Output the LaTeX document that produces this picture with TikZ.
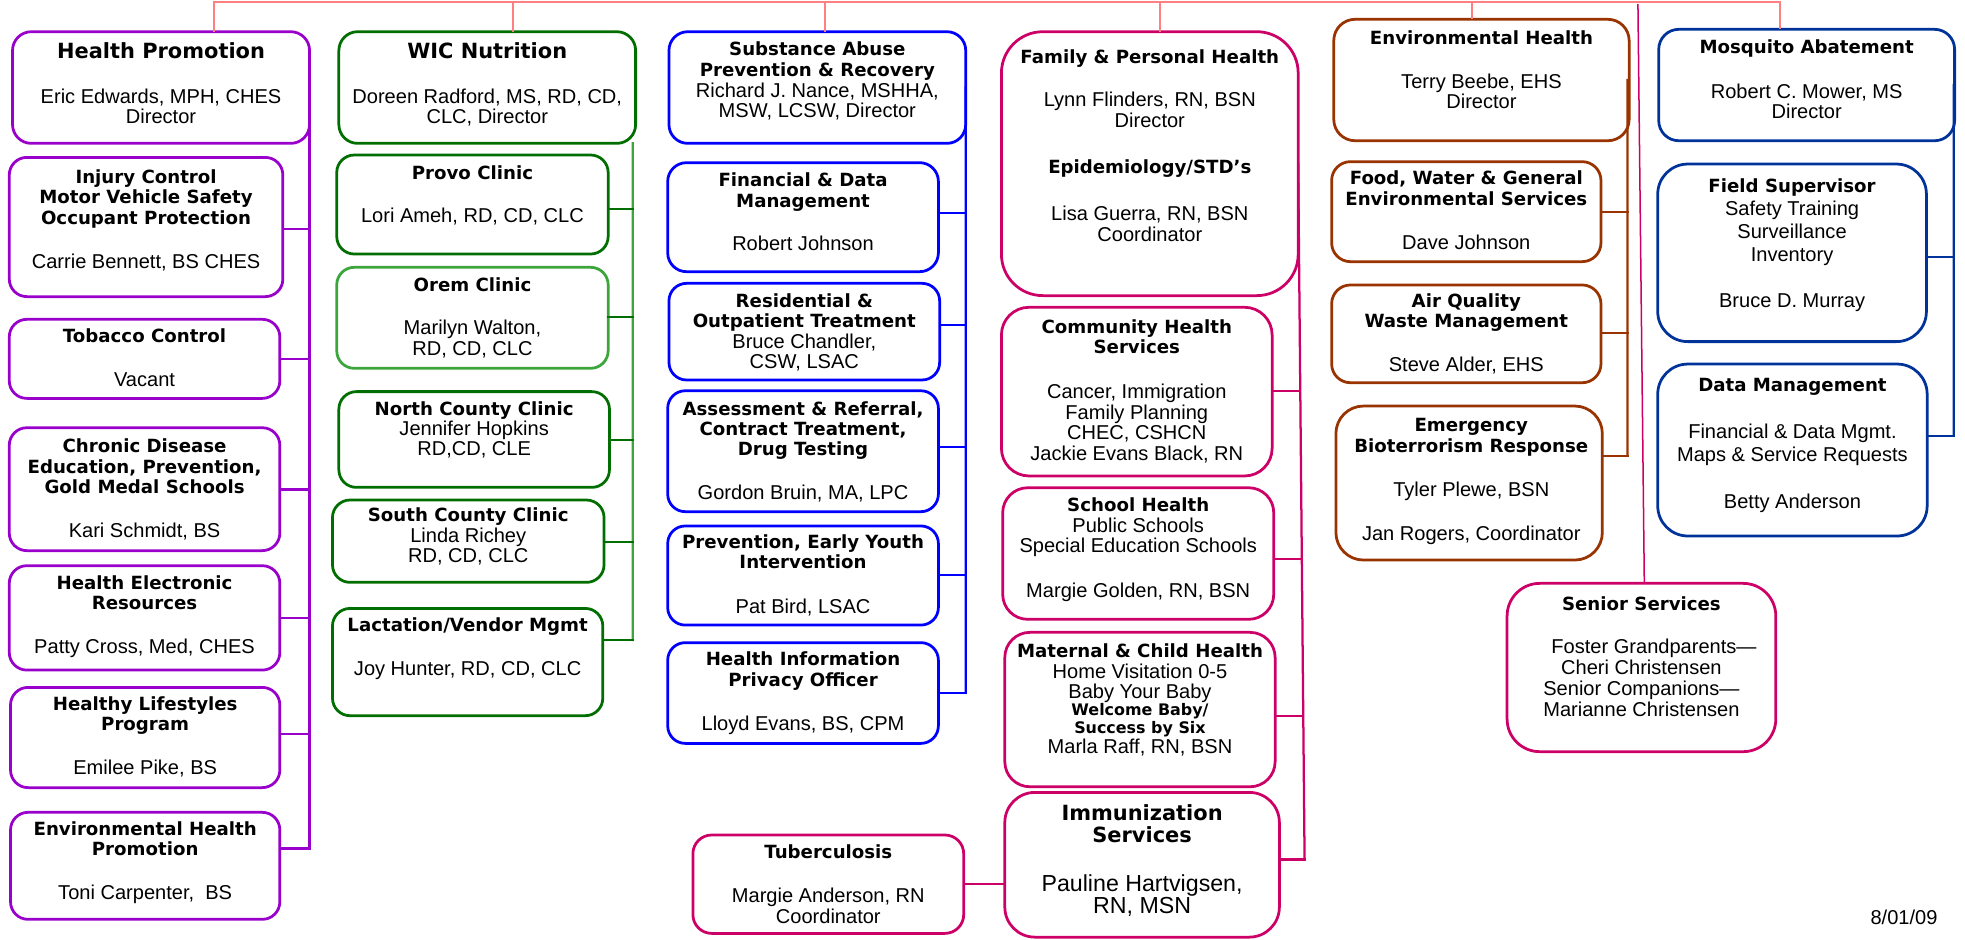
\documentclass[tikz,border=0pt]{standalone}
\usepackage{fontspec}
\setmainfont{Liberation Sans}
\newfontfamily\dejavu{DejaVu Sans}
\definecolor{purp}{RGB}{153,0,204}
\definecolor{dgreen}{RGB}{0,110,0}
\definecolor{lgreen}{RGB}{60,165,60}
\definecolor{bblue}{RGB}{0,0,255}
\definecolor{crim}{RGB}{204,0,102}
\definecolor{brn}{RGB}{153,51,0}
\definecolor{navyb}{RGB}{0,51,153}
\definecolor{salm}{RGB}{255,128,128}
\newcommand\setfs[2]{\fontsize{#1}{#2}\selectfont\lineskiplimit=-40pt\relax}
\newcommand\Hd[1]{{\dejavu\bfseries\fontsize{14.5}{16.3}\selectfont#1}}
\newcommand\Hdbig[1]{{\dejavu\bfseries\fontsize{16.7}{18}\selectfont#1}}
\newcommand\Hdsm[1]{{\dejavu\bfseries\fontsize{12.7}{14}\selectfont#1}}
\newcommand\Bign[1]{{\fontsize{18.5}{18}\selectfont#1}}
\newcommand\mkbox[7][]{\node[bx=#3,#1,minimum width={(#6-#4)*1pt},minimum height={(#7-#5)*1pt}] (#2) at ({(#4+#6)/2},{(#5+#7)/2}) {};}
\newcommand\mktext[5][]{\node[tx,#1] (#2) at (#3,{#4-13}) {\rule{0pt}{13pt}#5};}
\begin{document}
\begin{tikzpicture}[x=1pt,y=-1pt,
  bx/.style={draw=#1, line width=2.2pt, rounded corners=14pt, inner sep=0pt, outer sep=0pt},
  cn/.style={draw=#1, line width=1.8pt, line cap=rect},
  tx/.style={anchor=north, align=center, inner sep=0pt, outer sep=0pt, font=\setfs{16}{16.3}}]
\fill[white] (0,0) rectangle (1568,749.3);
\useasboundingbox (0,0) rectangle (1568,749.3);

% ---------- boxes ----------
\mkbox[rounded corners=15pt]{hp}{purp}{10}{25.3}{247}{114.4}
\mkbox{inj}{purp}{7.4}{125.6}{225.7}{236.7}
\mkbox{tob}{purp}{7.4}{254.8}{223.3}{317.9}
\mkbox{chr}{purp}{7.4}{341.3}{223.3}{439.4}
\mkbox{her}{purp}{7.4}{451.4}{223.3}{534.7}
\mkbox{hl}{purp}{8.4}{548.5}{223.3}{628.5}
\mkbox{ehp}{purp}{8.4}{648.2}{223.3}{733.6}

\mkbox[rounded corners=15pt]{wic}{dgreen}{270.4}{25.3}{507.2}{114.4}
\mkbox{provo}{dgreen}{268.7}{123.7}{485.3}{202.7}
\mkbox{orem}{lgreen}{268.7}{213.3}{485.3}{293.9}
\mkbox{north}{dgreen}{270.4}{312.5}{486.3}{388.9}
\mkbox{south}{dgreen}{265.3}{399}{482}{464.7}
\mkbox{lac}{dgreen}{265.3}{485.5}{481}{571.1}

\mkbox[rounded corners=15pt]{sub}{bblue}{533.8}{25.3}{770.6}{114.4}
\mkbox[rounded corners=15pt]{fin}{bblue}{532.8}{129.8}{748.8}{216.8}
\mkbox{res}{bblue}{533.8}{226.1}{749.8}{303.2}
\mkbox{ass}{bblue}{532.8}{311.8}{748.8}{408.3}
\mkbox{prev}{bblue}{532.8}{419.7}{748.8}{498.8}
\mkbox{hipo}{bblue}{532.8}{512.8}{748.8}{593.2}

\mkbox[rounded corners=33pt]{fam}{crim}{799.1}{25.3}{1035.9}{235.9}
\mkbox[rounded corners=22pt]{comm}{crim}{799.1}{245.2}{1015.1}{379.8}
\mkbox[rounded corners=20pt]{school}{crim}{800.1}{389.2}{1016.4}{494.2}
\mkbox[rounded corners=20pt]{mat}{crim}{801.8}{504.6}{1017.5}{627.8}
\mkbox[rounded corners=24pt]{imm}{crim}{801.8}{632.3}{1020.9}{747.8}
\mkbox[rounded corners=15pt]{tb}{crim}{552.9}{666.3}{769}{744.8}

\mkbox[rounded corners=17pt]{eh}{brn}{1064.3}{15.4}{1300}{112.3}
\mkbox[rounded corners=15pt]{food}{brn}{1062.6}{129}{1277.5}{208.8}
\mkbox[rounded corners=15pt]{air}{brn}{1062.6}{227.4}{1277.5}{305.4}
\mkbox[rounded corners=22pt]{emer}{brn}{1066}{324}{1278.6}{446.9}

\mkbox[rounded corners=16pt]{mos}{navyb}{1323.6}{23.4}{1559.7}{112.3}
\mkbox[rounded corners=24pt]{field}{navyb}{1322.8}{130.9}{1537.2}{272.6}
\mkbox[rounded corners=24pt]{data}{navyb}{1322.8}{290.5}{1537.8}{427.7}

\mkbox[rounded corners=26pt]{sen}{crim}{1202.6}{465.5}{1417}{599.8}

% ---------- texts ----------
\mktext{hp-t}{128.5}{46.5}{\Hdbig{Health Promotion}\\[19.7pt]Eric Edwards, MPH, CHES\\Director}
\mktext{inj-t}{116.55}{146.3}{\Hd{Injury Control}\\\Hd{Motor Vehicle Safety}\\\Hd{Occupant Protection}\\[19pt]Carrie Bennett, BS CHES}
\mktext{tob-t}{115.35}{273.4}{\Hd{Tobacco Control}\\[18.9pt]Vacant}
\mktext{chr-t}{115.35}{361.2}{\Hd{Chronic Disease}\\\Hd{Education, Prevention,}\\\Hd{Gold Medal Schools}\\[18.8pt]Kari Schmidt, BS}
\mktext{her-t}{115.35}{470.3}{\Hd{Health Electronic}\\\Hd{Resources}\\[18.8pt]Patty Cross, Med, CHES}
\mktext{hl-t}{115.85}{566.6}{\Hd{Healthy Lifestyles}\\\Hd{Program}\\[18.9pt]Emilee Pike, BS}
\mktext{ehp-t}{115.85}{666.3}{\Hd{Environmental Health}\\\Hd{Promotion}\\[18.8pt]Toni Carpenter,\ \ BS}

\mktext{wic-t}{388.8}{46.5}{\Hdbig{WIC Nutrition}\\[19.7pt]Doreen Radford, MS, RD, CD,\\CLC, Director}
\mktext{provo-t}{377}{143.6}{\Hd{Provo Clinic}\\[17.8pt]Lori Ameh, RD, CD, CLC}
\mktext{orem-t}{377}{232.8}{\Hd{Orem Clinic}\\[18.2pt]Marilyn Walton,\\RD, CD, CLC}
\mktext{north-t}{378.35}{331.2}{\Hd{North County Clinic}\\Jennifer Hopkins\\RD,CD, CLE}
\mktext{south-t}{373.65}{416.3}{\Hd{South County Clinic}\\Linda Richey\\RD, CD, CLC}
\mktext{lac-t}{373.15}{504.1}{\Hd{Lactation/Vendor Mgmt}\\[19pt]Joy Hunter, RD, CD, CLC}

\mktext{sub-t}{652.2}{43.9}{\Hd{Substance Abuse}\\[1pt]\Hd{Prevention \& Recovery}\\Richard J. Nance, MSHHA,\\MSW, LCSW, Director}
\mktext{fin-t}{640.8}{149}{\Hd{Financial \& Data}\\\Hd{Management}\\[18.2pt]Robert Johnson}
\mktext{res-t}{641.8}{245.3}{\Hd{Residential \&}\\\Hd{Outpatient Treatment}\\Bruce Chandler,\\CSW, LSAC}
\mktext{ass-t}{640.8}{331.2}{\Hd{Assessment \& Referral,}\\\Hd{Contract Treatment,}\\\Hd{Drug Testing}\\[18.3pt]Gordon Bruin, MA, LPC}
\mktext{prev-t}{640.8}{437.6}{\Hd{Prevention, Early Youth}\\\Hd{Intervention}\\[19.7pt]Pat Bird, LSAC}
\mktext{hipo-t}{640.8}{531.2}{\Hd{Health Information}\\\Hd{Privacy Officer}\\[18.8pt]Lloyd Evans, BS, CPM}

\mktext{fam-t}{917.5}{50.5}{\Hd{Family \& Personal Health}\\[18.3pt]Lynn Flinders, RN, BSN\\Director\\[20.6pt]\Hd{Epidemiology/STD’s}\\[21.5pt]Lisa Guerra, RN, BSN\\Coordinator}
\mktext{comm-t}{907.1}{266}{\Hd{Community Health}\\\Hd{Services}\\[19.6pt]Cancer, Immigration\\Family Planning\\CHEC, CSHCN\\Jackie Evans Black, RN}
\mktext{school-t}{908.25}{408.3}{\Hd{School Health}\\Public Schools\\Special Education Schools\\[19.7pt]Margie Golden, RN, BSN}
\mktext{mat-t}{909.65}{524.8}{\Hd{Maternal \& Child Health}\\Home Visitation 0-5\\Baby Your Baby\\[-2.5pt]\Hdsm{Welcome Baby/}\\[-2.2pt]\Hdsm{Success by Six}\\[-0.3pt]Marla Raff, RN, BSN}
\mktext[font=\setfs{16}{18}]{imm-t}{911.35}{654.4}{\Hdbig{Immunization}\\\Hdbig{Services}\\[20.6pt]\Bign{Pauline Hartvigsen,}\\\Bign{RN, MSN}}
\mktext{tb-t}{660.95}{684.9}{\Hd{Tuberculosis}\\[19.1pt]Margie Anderson, RN\\Coordinator}

\mktext{eh-t}{1182.15}{35.4}{\Hd{Environmental Health}\\[18.8pt]Terry Beebe, EHS\\Director}
\mktext{food-t}{1170.05}{147.6}{\Hd{Food, Water \& General}\\\Hd{Environmental Services}\\[19.1pt]Dave Johnson}
\mktext{air-t}{1170.05}{245.3}{\Hd{Air Quality}\\\Hd{Waste Management}\\[18.3pt]Steve Alder, EHS}
\mktext{emer-t}{1174}{344.5}{\Hd{Emergency}\\\Hd{Bioterrorism Response}\\[19.1pt]Tyler Plewe, BSN\\[18.8pt]Jan Rogers, Coordinator}

\mktext{mos-t}{1441.65}{42.6}{\Hd{Mosquito Abatement}\\[19.6pt]Robert C. Mower, MS\\Director}
\mktext[font=\setfs{16}{18.2}]{field-t}{1430}{153.7}{\Hd{Field Supervisor}\\Safety Training\\Surveillance\\Inventory\\[19.1pt]Bruce D. Murray}
\mktext[font=\setfs{16}{18.6}]{data-t}{1430.3}{312.5}{\Hd{Data Management}\\[18.7pt]Financial \& Data Mgmt.\\Maps \& Service Requests\\[18.7pt]Betty Anderson}

\mktext[font=\setfs{16}{16.8}]{sen-t}{1309.8}{486.8}{\Hd{Senior Services}\\[17.8pt]\hspace*{20pt}Foster Grandparents—\\Cheri Christensen\\Senior Companions—\\Marianne Christensen}

\node[font=\setfs{16}{16.3}, anchor=base east, inner sep=0pt, outer sep=0pt] (date) at (1546,737.4) {8/01/09};

% ---------- top line ----------
\coordinate (r1) at (170.6,1.5);
\coordinate (r2) at (409.1,1.5);
\coordinate (r3) at (658,1.5);
\coordinate (r4) at (926,1.5);
\coordinate (r5) at (1174.4,1.5);
\coordinate (r6) at (1420.3,1.5);
\draw[cn=salm, line width=2pt] (r1) -- (r6);
\draw[cn=salm, line width=1.6pt, line cap=butt] (r1) -- (r1 |- hp.north);
\draw[cn=salm, line width=1.6pt, line cap=butt] (r2) -- (r2 |- wic.north);
\draw[cn=salm, line width=1.6pt, line cap=butt] (r3) -- (r3 |- sub.north);
\draw[cn=salm, line width=1.6pt, line cap=butt] (r4) -- (r4 |- fam.north);
\draw[cn=salm, line width=1.6pt, line cap=butt] (r5) -- (r5 |- eh.north);
\draw[cn=salm, line width=1.6pt, line cap=butt] (r6) -- (r6 |- mos.north);

% senior services line
\coordinate (st) at (1307,3);
\draw[crim, line width=1.2pt] (st) -- ([xshift=2.3pt]sen.north);

% ---------- purple bus ----------
\coordinate (pb1) at (247,183);
\coordinate (pb2) at (247,286.5);
\coordinate (pb3) at (247,390.5);
\coordinate (pb4) at (247,492.9);
\coordinate (pb5) at (247,585.7);
\coordinate (pb6) at (247,677);
\draw[cn=purp] (hp.east) -- (pb6);
\draw[cn=purp] (pb1) -- (pb1 -| inj.east);
\draw[cn=purp] (pb2) -- (pb2 -| tob.east);
\draw[cn=purp] (pb3) -- (pb3 -| chr.east);
\draw[cn=purp] (pb4) -- (pb4 -| her.east);
\draw[cn=purp] (pb5) -- (pb5 -| hl.east);
\draw[cn=purp] (pb6) -- (pb6 -| ehp.east);

% ---------- green bus ----------
\coordinate (gb1) at (505,167);
\coordinate (gb2) at (505,253);
\coordinate (gb3) at (505,351.1);
\coordinate (gb4) at (505,432.2);
\coordinate (gb5) at (505,510.7);
\draw[cn=lgreen] ([xshift=-2.2pt]wic.south east) -- (gb5);
\draw[cn=dgreen] (gb1) -- (gb1 -| provo.east);
\draw[cn=dgreen] (gb2) -- (gb2 -| orem.east);
\draw[cn=dgreen] (gb3) -- (gb3 -| north.east);
\draw[cn=dgreen] (gb4) -- (gb4 -| south.east);
\draw[cn=dgreen] (gb5) -- (gb5 -| lac.east);

% ---------- blue bus ----------
\coordinate (bb1) at (770.6,169.7);
\coordinate (bb2) at (770.6,259.4);
\coordinate (bb3) at (770.6,356.4);
\coordinate (bb4) at (770.6,458.9);
\coordinate (bb5) at (770.6,552.8);
\draw[cn=bblue] (sub.east) -- (bb5);
\draw[cn=bblue] (bb1) -- (bb1 -| fin.east);
\draw[cn=bblue] (bb2) -- (bb2 -| res.east);
\draw[cn=bblue] (bb3) -- (bb3 -| ass.east);
\draw[cn=bblue] (bb4) -- (bb4 -| prev.east);
\draw[cn=bblue] (bb5) -- (bb5 -| hipo.east);

% ---------- crimson bus ----------
\coordinate (mb1) at (1037.6,311.8);
\coordinate (mb2) at (1038.8,446.3);
\coordinate (mb3) at (1039.9,571.4);
\coordinate (mb4) at (1041,685.8);
\draw[cn=crim] (fam.east) -- (mb4);
\draw[cn=crim] (mb1) -- (mb1 -| comm.east);
\draw[cn=crim] (mb2) -- (mb2 -| school.east);
\draw[cn=crim] (mb3) -- (mb3 -| mat.east);
\draw[cn=crim] (mb4) -- (mb4 -| imm.east);
\draw[cn=crim] (tb.east) -- (tb.east -| imm.west);

% ---------- brown bus ----------
\coordinate (nb1x) at (1298.7,168.9);
\coordinate (nb2x) at (1298.7,266);
\coordinate (nb3x) at (1298.7,363.6);
\draw[cn=brn] ([xshift=-1.3pt]eh.east) -- (nb3x);
\draw[cn=brn] (nb1x) -- (nb1x -| food.east);
\draw[cn=brn] (nb2x) -- (nb2x -| air.east);
\draw[cn=brn] (nb3x) -- (nb3x -| emer.east);

% ---------- navy bus ----------
\coordinate (vb1) at (1559,205.3);
\coordinate (vb2) at (1559,347.7);
\draw[cn=navyb] ([xshift=-0.7pt]mos.east) -- (vb2);
\draw[cn=navyb] (vb1) -- (vb1 -| field.east);
\draw[cn=navyb] (vb2) -- (vb2 -| data.east);
\end{tikzpicture}
\end{document}
